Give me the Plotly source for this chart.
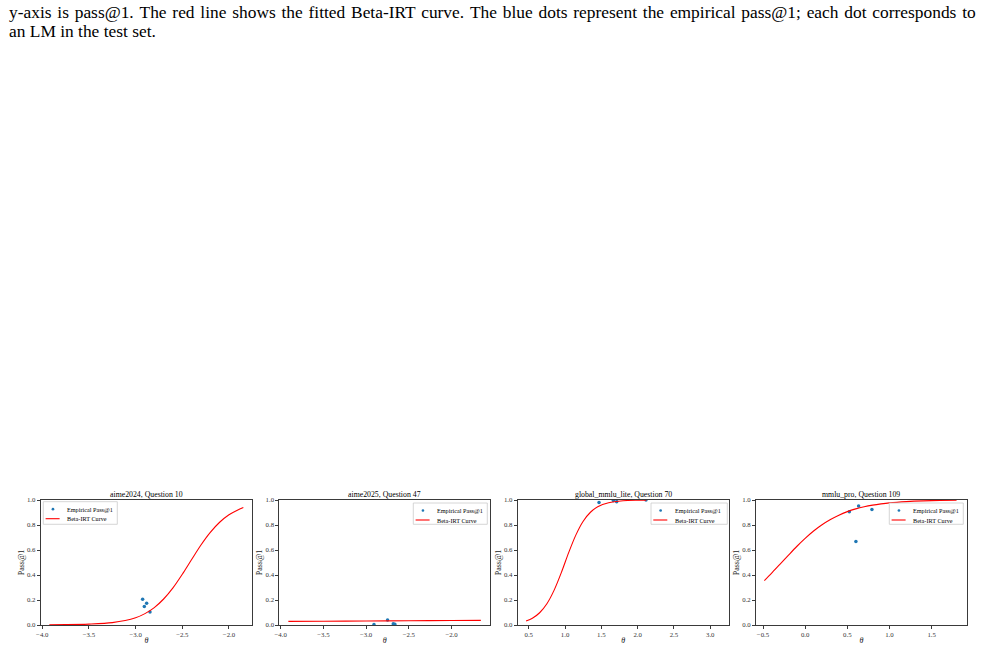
import plotly.graph_objects as go

# ---------------- data ----------------
titles = ["aime2024, Question 10", "aime2025, Question 47",
          "global_mmlu_lite, Question 70", "mmlu_pro, Question 109"]
legend_labels = ["Empirical Pass@1", "Beta-IRT Curve"]

# empirical pass@1 (blue dots)
emp_x1 = [-2.925, -2.907, -2.882, -2.846]
emp_y1 = [0.205, 0.147, 0.173, 0.104]
emp_x2 = [-2.908, -2.749, -2.682, -2.663]
emp_y2 = [0.003, 0.040, 0.010, 0.005]
emp_x3 = [1.468, 1.665, 1.711, 2.115]
emp_y3 = [0.981, 0.997, 0.987, 1.000]
emp_x4 = [0.524, 0.602, 0.634, 0.792]
emp_y4 = [0.907, 0.667, 0.952, 0.925]

# fitted Beta-IRT curve (red line)
cur_x1 = [-3.925, -3.75, -3.5, -3.25, -3.0, -2.9, -2.8, -2.7, -2.6, -2.5,
          -2.4, -2.3, -2.2, -2.1, -2.0, -1.9, -1.846]
cur_y1 = [0.002, 0.003, 0.007, 0.019, 0.058, 0.091, 0.139, 0.208, 0.297, 0.406,
          0.524, 0.640, 0.741, 0.822, 0.882, 0.923, 0.940]
cur_x2 = [-3.91, -3.5, -3.0, -2.5, -2.0, -1.657]
cur_y2 = [0.029, 0.030, 0.032, 0.034, 0.036, 0.037]
cur_x3 = [0.463, 0.55, 0.65, 0.75, 0.85, 0.95, 1.05, 1.15, 1.25, 1.35, 1.45,
          1.6, 1.8, 2.0, 2.12]
cur_y3 = [0.032, 0.054, 0.098, 0.170, 0.279, 0.421, 0.579, 0.721, 0.830, 0.902,
          0.946, 0.978, 0.994, 0.998, 0.999]
cur_x4 = [-0.484, -0.4, -0.3, -0.2, -0.1, 0.0, 0.1, 0.2, 0.3, 0.4, 0.5, 0.6,
          0.7, 0.8, 0.9, 1.0, 1.2, 1.4, 1.6, 1.796]
cur_y4 = [0.355, 0.413, 0.485, 0.557, 0.628, 0.693, 0.752, 0.802, 0.844, 0.879,
          0.907, 0.929, 0.946, 0.959, 0.969, 0.977, 0.987, 0.993, 0.996, 0.998]

xtick_vals1 = [-4.0, -3.5, -3.0, -2.5, -2.0]
xtick_text1 = ["\u22124.0", "\u22123.5", "\u22123.0", "\u22122.5", "\u22122.0"]
xtick_vals3 = [0.5, 1.0, 1.5, 2.0, 2.5, 3.0]
xtick_text3 = ["0.5", "1.0", "1.5", "2.0", "2.5", "3.0"]
xtick_vals4 = [-0.5, 0.0, 0.5, 1.0, 1.5]
xtick_text4 = ["\u22120.5", "0.0", "0.5", "1.0", "1.5"]
ytick_vals = [0.0, 0.2, 0.4, 0.6, 0.8, 1.0]
ytick_text = ["0.0", "0.2", "0.4", "0.6", "0.8", "1.0"]

caption1 = ("y-axis is pass@1. The red line shows the fitted Beta-IRT curve. "
            "The blue dots represent the empirical pass@1; each dot corresponds to")
caption2 = "an LM in the test set."

# ---------------- layout geometry ----------------
W, H = 985, 649
FONT = "Liberation Serif"
BLUE, RED = "#1f77b4", "red"
x_px = [(40.7, 252.3), (279.3, 490.0), (517.7, 728.7), (756.0, 966.7)]
y_px = (500.0, 625.0)
x_ranges = [(-4.017, -1.75), (-4.016, -1.55), (0.348, 3.254), (-0.583, 1.916)]
# legend box: left, top, right, bottom (px)
legend_box = [(43.3, 501.7, 117.3, 524.3), (413.3, 503.0, 487.3, 524.3),
              (651.0, 503.0, 727.3, 524.3), (889.3, 503.0, 963.3, 524.3)]

emp = [(emp_x1, emp_y1), (emp_x2, emp_y2), (emp_x3, emp_y3), (emp_x4, emp_y4)]
cur = [(cur_x1, cur_y1), (cur_x2, cur_y2), (cur_x3, cur_y3), (cur_x4, cur_y4)]
xticks = [(xtick_vals1, xtick_text1), (xtick_vals1, xtick_text1),
          (xtick_vals3, xtick_text3), (xtick_vals4, xtick_text4)]


def px(x):
    return x / W


def py(y):
    return 1 - y / H


fig = go.Figure()
layout = dict(
    width=W, height=H, margin=dict(l=0, r=0, t=0, b=0),
    paper_bgcolor="white", plot_bgcolor="white",
    font=dict(family=FONT, color="black", size=6),
    showlegend=False,
)
annotations = []
shapes = []

for i in range(4):
    n = "" if i == 0 else str(i + 1)
    xa, ya = "x" + n, "y" + n
    fig.add_trace(go.Scatter(
        x=emp[i][0], y=emp[i][1], mode="markers", name=legend_labels[0],
        marker=dict(color=BLUE, size=3.5), xaxis=xa, yaxis=ya))
    fig.add_trace(go.Scatter(
        x=cur[i][0], y=cur[i][1], mode="lines", name=legend_labels[1],
        line=dict(color=RED, width=1.1, shape="spline", smoothing=0.8),
        xaxis=xa, yaxis=ya))

    x0, x1 = x_px[i]
    common = dict(showline=True, linecolor="#3a3a3a", linewidth=0.8, mirror=True,
                  ticks="outside", ticklen=3, tickwidth=0.8, tickcolor="#3a3a3a",
                  showgrid=False, zeroline=False, automargin=False,
                  tickfont=dict(family=FONT, size=6.8, color="#333333"))
    layout["xaxis" + n] = dict(
        domain=[px(x0), px(x1)], range=list(x_ranges[i]), anchor=ya,
        tickmode="array", tickvals=xticks[i][0], ticktext=xticks[i][1],
        title=dict(text="<i>\u03b8</i>", font=dict(family=FONT, size=8, color="#222222"),
                   standoff=0),
        **common)
    layout["yaxis" + n] = dict(
        domain=[py(y_px[1]), py(y_px[0])], range=[0, 1], anchor=xa,
        tickmode="array", tickvals=ytick_vals, ticktext=ytick_text,
        title=dict(text="Pass@1", font=dict(family=FONT, size=8, color="#222222"),
                   standoff=1),
        **common)

    annotations.append(dict(
        text=titles[i], x=px((x0 + x1) / 2), y=py(494.3), xref="paper", yref="paper",
        showarrow=False, xanchor="center", yanchor="middle",
        font=dict(family=FONT, size=7.8, color="black")))

    # legend (drawn as a matplotlib-style compact box)
    L, T, R, B = legend_box[i]
    shapes.append(dict(type="rect", xref="paper", yref="paper",
                       x0=px(L), x1=px(R), y0=py(B), y1=py(T),
                       line=dict(color="#cccccc", width=0.8),
                       fillcolor="rgba(255,255,255,0.85)", layer="above"))
    ey1, ey2 = T + 7.5, T + 17.0
    shapes.append(dict(type="circle", xref="paper", yref="paper",
                       x0=px(L + 8.3), x1=px(L + 11.0), y0=py(ey1 + 1.35), y1=py(ey1 - 1.35),
                       line=dict(width=0), fillcolor=BLUE, layer="above"))
    shapes.append(dict(type="line", xref="paper", yref="paper",
                       x0=px(L + 2.3), x1=px(L + 16.3), y0=py(ey2), y1=py(ey2),
                       line=dict(color=RED, width=1.1), layer="above"))
    for lab, ey in zip(legend_labels, (ey1, ey2)):
        annotations.append(dict(
            text=lab, x=px(L + 21.5), y=py(ey), xref="paper", yref="paper",
            showarrow=False, xanchor="left", yanchor="middle",
            font=dict(family=FONT, size=6.2, color="black")))

cap1 = " \u200a".join(caption1.split(" "))
annotations.append(dict(text=cap1, x=px(7), y=py(12), xref="paper", yref="paper",
                        showarrow=False, xanchor="left", yanchor="middle",
                        font=dict(family=FONT, size=17.4, color="black")))
annotations.append(dict(text=caption2, x=px(7), y=py(31), xref="paper", yref="paper",
                        showarrow=False, xanchor="left", yanchor="middle",
                        font=dict(family=FONT, size=17.4, color="black")))
layout["annotations"] = annotations
layout["shapes"] = shapes
fig.update_layout(**layout)
fig.write_html("out.html")
